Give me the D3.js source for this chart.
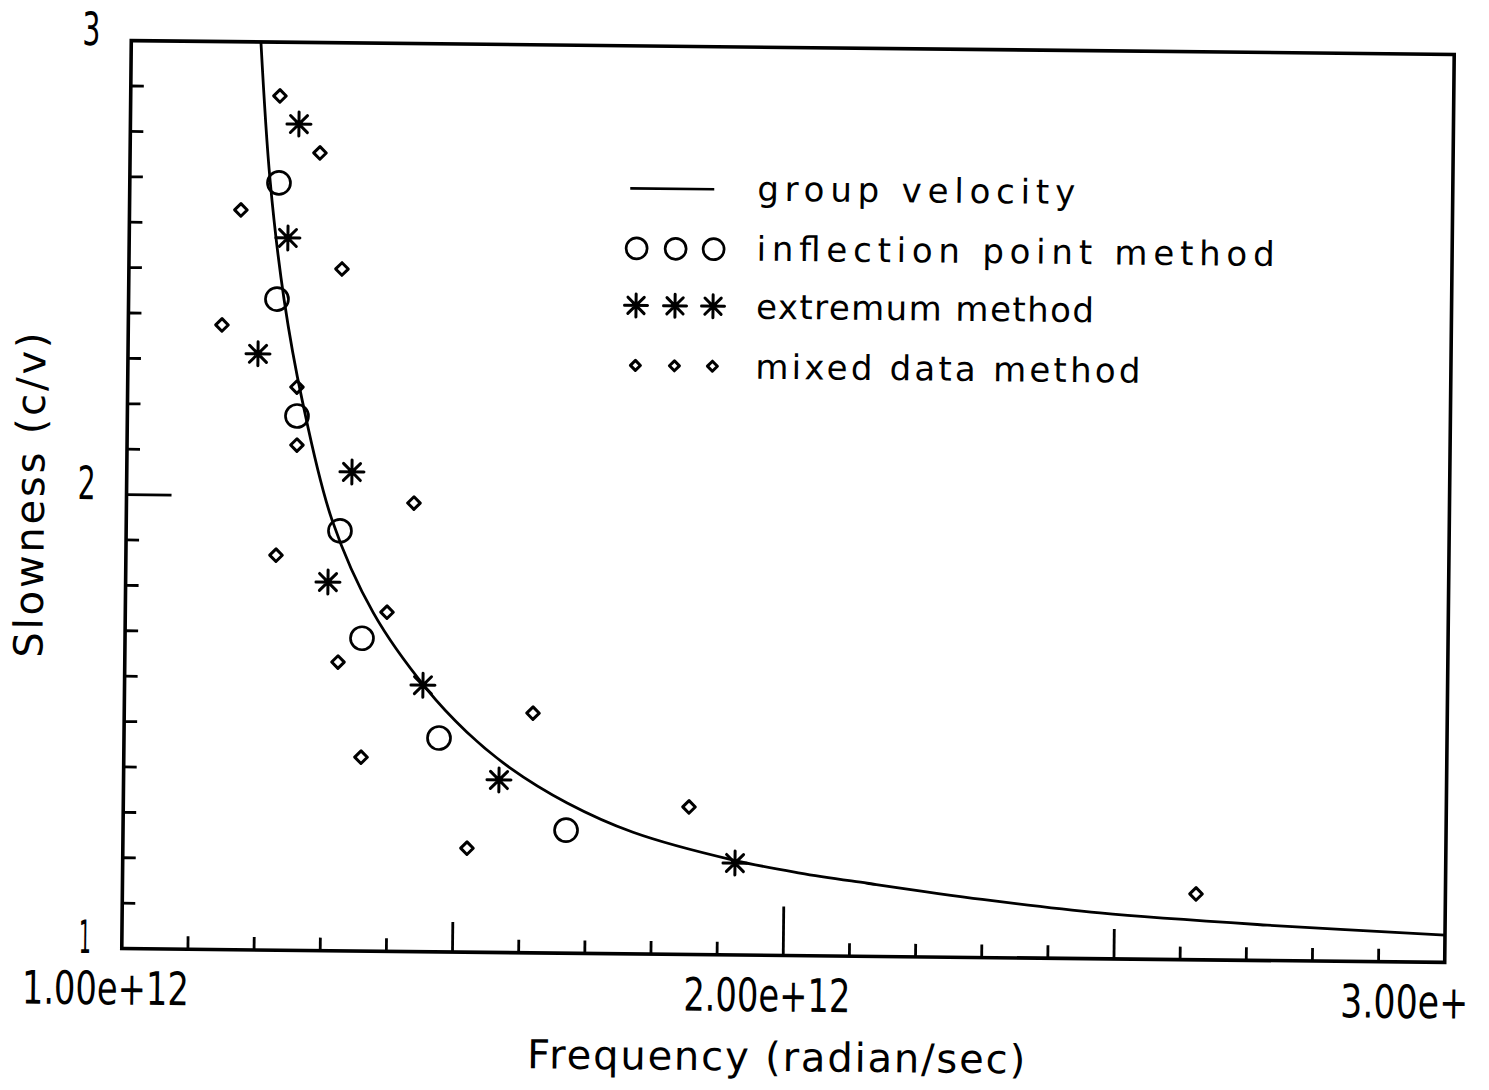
<!DOCTYPE html>
<html><head><meta charset="utf-8">
<script src="https://cdn.jsdelivr.net/npm/d3@7"></script>
<style>body{margin:0;background:#fff}svg{display:block}</style>
</head><body><svg id="c" width="1489" height="1090"></svg>
<script>
// ---- data (frequency in units of 1e12 rad/s) ----
const curveFreq = [1.196, 1.212, 1.235, 1.264, 1.311, 1.375, 1.456, 1.518, 1.584, 1.671, 1.771, 1.923, 2.024, 2.126, 2.300, 2.478, 2.731, 3.000];
const curveSlow = [3.000, 2.696, 2.434, 2.212, 1.949, 1.745, 1.580, 1.485, 1.407, 1.331, 1.268, 1.209, 1.182, 1.161, 1.128, 1.101, 1.078, 1.060];

const inflFreq = [1.2255, 1.2243, 1.2564, 1.3232, 1.3582, 1.4762, 1.6697];
const inflSlow = [2.690, 2.434, 2.177, 1.925, 1.689, 1.471, 1.271];

const extFreq = [1.2548, 1.2399, 1.1965, 1.3404, 1.3059, 1.4511, 1.5675, 1.9256];
const extSlow = [2.820, 2.569, 2.313, 2.055, 1.812, 1.587, 1.380, 1.2025];

const mixFreq = [1.2256, 1.287, 1.1684, 1.3221, 1.1416, 1.2559, 1.2568, 1.4346, 1.2269, 1.3956, 1.3223, 1.6179, 1.5202, 1.8552, 1.3586, 2.623];
const mixSlow = [2.8815, 2.757, 2.6295, 2.5018, 2.3758, 2.2408, 2.113, 1.988, 1.870, 1.747, 1.636, 1.528, 1.229, 1.325, 1.427, 1.145];

const xMinorTicks = [1.1,1.2,1.3,1.4,1.6,1.7,1.8,1.9,2.1,2.2,2.3,2.4,2.6,2.7,2.8,2.9];
const xMidTicks = [1.5, 2.5];
const xMajorTicks = [2.0];
const xLabelValues = [1, 2, 3];
const xTickLabels = ["1.00e+12", "2.00e+12", "3.00e+"];
const yMinorTicks = [1.1,1.2,1.3,1.4,1.5,1.6,1.7,1.8,1.9,2.1,2.2,2.3,2.4,2.5,2.6,2.7,2.8,2.9];
const yMajorTicks = [2];
const yLabelValues = [1, 2, 3];
const yTickLabels = ["1", "2", "3"];

const legendLabels = ["group velocity", "inflection point method", "extremum method", "mixed data method"];
const xTitle = "Frequency (radian/sec)";
const yTitle = "Slowness (c/v)";

// ---- layout ----
const L = 126.5, R = 1449.5, T = 47.5, B = 955.5;
const FONT = "'DejaVu Sans', sans-serif";
const svg = d3.select("#c");
svg.append("rect").attr("width",1489).attr("height",1090).attr("fill","#fff");
const defs = svg.append("defs");
defs.append("clipPath").attr("id","plotclip").append("rect")
  .attr("x",L).attr("y",T).attr("width",R-L).attr("height",B-T);

const g = svg.append("g").attr("transform","rotate(0.6,788,501)");

const x = d3.scaleLinear().domain([1,3]).range([L,R]);
const y = d3.scaleLinear().domain([1,3]).range([B,T]);

// curve
const curvePts = curveFreq.map((f,i)=>[f,curveSlow[i]]);
g.append("path").datum(curvePts)
  .attr("clip-path","url(#plotclip)")
  .attr("d", d3.line().x(d=>x(d[0])).y(d=>y(d[1])).curve(d3.curveCatmullRom.alpha(0.5)))
  .attr("fill","none").attr("stroke","#000").attr("stroke-width",2.8);

// marker helpers
function circleMark(sel, r){ sel.append("circle").attr("r",r).attr("fill","none").attr("stroke","#000").attr("stroke-width",2.7); }
function starMark(sel, r){
  const a = [0,45,90,135];
  const p = a.map(deg=>{const t=deg*Math.PI/180; return `M${-r*Math.cos(t)},${-r*Math.sin(t)}L${r*Math.cos(t)},${r*Math.sin(t)}`;}).join("");
  sel.append("path").attr("d",p).attr("stroke","#000").attr("stroke-width",3).attr("stroke-linecap","round");
  sel.append("circle").attr("r",3).attr("fill","#000");
}
function diamondMark(sel, r){
  sel.append("path").attr("d",`M0,${-r}L${r},0L0,${r}L${-r},0Z`).attr("fill","none")
    .attr("stroke","#000").attr("stroke-width",3).attr("stroke-linejoin","round");
}

const marks = g.append("g");
marks.selectAll("g.infl").data(inflFreq.map((f,i)=>[f,inflSlow[i]])).join("g")
  .attr("transform",d=>`translate(${x(d[0])},${y(d[1])})`).each(function(){circleMark(d3.select(this),11.5);});
marks.selectAll("g.ext").data(extFreq.map((f,i)=>[f,extSlow[i]])).join("g")
  .attr("transform",d=>`translate(${x(d[0])},${y(d[1])})`).each(function(){starMark(d3.select(this),12);});
marks.selectAll("g.mix").data(mixFreq.map((f,i)=>[f,mixSlow[i]])).join("g")
  .attr("transform",d=>`translate(${x(d[0])},${y(d[1])})`).each(function(){diamondMark(d3.select(this),6.3);});

// frame
g.append("rect").attr("x",L).attr("y",T).attr("width",R-L).attr("height",B-T)
  .attr("fill","none").attr("stroke","#000").attr("stroke-width",3.6);

// ticks
const tk = g.append("g").attr("stroke","#000").attr("stroke-width",2.8);
function xt(vals, len){ tk.selectAll(null).data(vals).join("line")
  .attr("x1",d=>x(d)).attr("x2",d=>x(d)).attr("y1",B).attr("y2",B-len); }
xt(xMinorTicks,13); xt(xMidTicks,30); xt(xMajorTicks,49);
function ytk(vals, len){ tk.selectAll(null).data(vals).join("line")
  .attr("y1",d=>y(d)).attr("y2",d=>y(d)).attr("x1",L).attr("x2",L+len); }
ytk(yMinorTicks,13); ytk(yMajorTicks,45);

// tick labels
g.selectAll("text.xl").data(xLabelValues).join("text")
  .attr("x",(d,i)=>i===2 ? x(d)-104 : x(d)-16).attr("y",B+56)
  .attr("text-anchor",(d,i)=>i===2?"start":"middle")
  .attr("font-family",FONT).attr("font-size",46)
  .attr("textLength",(d,i)=>i===2?128:167).attr("lengthAdjust","spacingAndGlyphs")
  .text((d,i)=>xTickLabels[i]);
g.selectAll("text.yl").data(yLabelValues).join("text")
  .attr("x",L-31).attr("y",d=>y(d)+5).attr("text-anchor","end")
  .attr("font-family",FONT).attr("font-size",46)
  .attr("textLength",(d,i)=>yTickLabels[i]==="1"?12:18).attr("lengthAdjust","spacingAndGlyphs")
  .text((d,i)=>yTickLabels[i]);

// axis titles
g.append("text").attr("x",782).attr("y",1071).attr("text-anchor","middle")
  .attr("font-family",FONT).attr("font-size",40)
  .attr("textLength",498).attr("lengthAdjust","spacing").text(xTitle);
g.append("text").attr("transform","translate(44,503) rotate(-90)").attr("text-anchor","middle")
  .attr("font-family",FONT).attr("font-size",40)
  .attr("textLength",325).attr("lengthAdjust","spacing").text(yTitle);

// legend
const lg = g.append("g");
const lx = [634, 673, 711];
const ly = [190, 250, 307, 367];
lg.append("line").attr("x1",627).attr("x2",711).attr("y1",ly[0]).attr("y2",ly[0]).attr("stroke","#000").attr("stroke-width",2.6);
lx.forEach(px=>{ const s=lg.append("g").attr("transform",`translate(${px},${ly[1]})`); circleMark(s,10.5); });
lx.forEach(px=>{ const s=lg.append("g").attr("transform",`translate(${px},${ly[2]})`); starMark(s,11.5); });
lx.forEach(px=>{ const s=lg.append("g").attr("transform",`translate(${px},${ly[3]})`); diamondMark(s,5); });
const legW = [318, 518, 338, 385];
const legBase = [201, 261, 319, 379];
lg.selectAll("text").data(legendLabels).join("text")
  .attr("x",754).attr("y",(d,i)=>legBase[i])
  .attr("font-family",FONT).attr("font-size",34)
  .attr("textLength",(d,i)=>legW[i]).attr("lengthAdjust","spacing")
  .text(d=>d);
</script></body></html>
